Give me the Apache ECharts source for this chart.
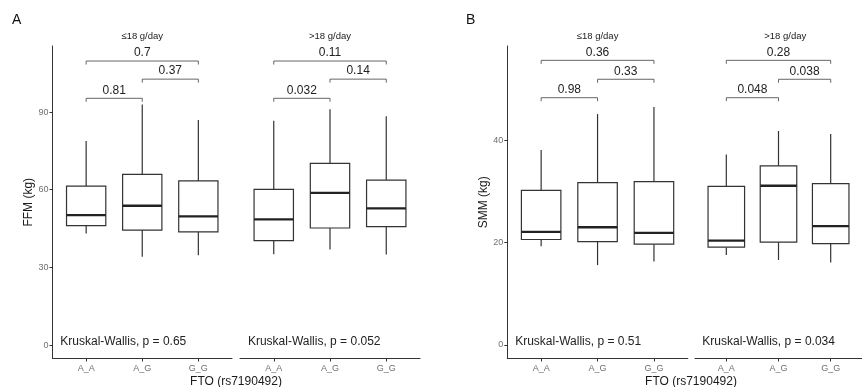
<!DOCTYPE html>
<html>
<head>
<meta charset="utf-8">
<script src="https://cdn.jsdelivr.net/npm/echarts@6/dist/echarts.min.js"></script>
<style>
  html, body { margin: 0; padding: 0; background: #fff; }
  #chart { width: 862px; height: 387px; }
</style>
</head>
<body>
<div id="chart"></div>
<script>
// Genotype categories and intake strata
const genotypes = ['A_A', 'A_G', 'G_G'];
const intakeGroups = ['\u226418 g/day', '>18 g/day'];

// Box summaries per genotype: [lower whisker, Q1, median, Q3, upper whisker]
const ffmLow  = [[43.1, 46.1, 50.2, 61.4, 78.8], [34.1, 44.4, 53.8, 65.9, 92.9], [34.7, 43.7, 49.7, 63.4, 86.9]];
const ffmHigh = [[35.1, 40.3, 48.5, 60.1, 86.6], [36.9, 45.2, 58.8, 70.2, 91.1], [35.0, 45.7, 52.8, 63.7, 88.4]];
const smmLow  = [[19.3, 20.6, 22.1, 30.2, 38.1], [15.6, 20.2, 23.0, 31.7, 45.1], [16.3, 19.7, 21.9, 31.9, 46.5]];
const smmHigh = [[17.6, 19.1, 20.4, 31.0, 37.2], [16.6, 20.1, 31.1, 35.0, 41.8], [16.1, 19.8, 23.2, 31.5, 41.2]];

// Pairwise comparisons: A_A vs A_G, A_G vs G_G, A_A vs G_G
const pairs = [[0, 1], [1, 2], [0, 2]];
const ffmBracketY = [95.3, 102.7, 109.7];
const smmBracketY = [48.3, 51.9, 55.6];
const ffmLowP  = ['0.81', '0.37', '0.7'];
const ffmHighP = ['0.032', '0.14', '0.11'];
const smmLowP  = ['0.98', '0.33', '0.36'];
const smmHighP = ['0.048', '0.038', '0.28'];

// Kruskal-Wallis p-values per stratum
const ffmKW = ['0.65', '0.052'];
const smmKW = ['0.51', '0.034'];

// Y axis ticks
const ffmTicks = [0, 30, 60, 90];
const smmTicks = [0, 20, 40];

const FONT = '"Liberation Sans", Arial, sans-serif';
const INK = '#333333';

const chart = echarts.init(document.getElementById('chart'), null, { renderer: 'canvas' });

const panelTop = 46, panelHeight = 312.5;
const facets = [
  { left: 52.5, width: 179.5, boxes: ffmLow,  p: ffmLowP,  by: ffmBracketY, kw: ffmKW[0], ymin: -5.2,  ymax: 115.5, ticks: ffmTicks, showY: true,  yName: 'FFM (kg)' },
  { left: 240,  width: 180,   boxes: ffmHigh, p: ffmHighP, by: ffmBracketY, kw: ffmKW[1], ymin: -5.2,  ymax: 115.5, ticks: ffmTicks, showY: false },
  { left: 507.3, width: 180.5, boxes: smmLow,  p: smmLowP,  by: smmBracketY, kw: smmKW[0], ymin: -2.64, ymax: 58.4, ticks: smmTicks, showY: true, yName: 'SMM (kg)' },
  { left: 695,  width: 180.5, boxes: smmHigh, p: smmHighP, by: smmBracketY, kw: smmKW[1], ymin: -2.64, ymax: 58.4, ticks: smmTicks, showY: false }
];

const grids = [], xAxes = [], yAxes = [], series = [];

facets.forEach((f, gi) => {
  grids.push({ left: f.left, top: panelTop, width: f.width, height: panelHeight, containLabel: false });
  xAxes.push({
    type: 'value', gridIndex: gi, min: -0.6, max: 2.6,
    axisLine: { show: true, onZero: false, lineStyle: { color: INK, width: 1 } },
    axisTick: { show: true, customValues: [0, 1, 2], length: 3, lineStyle: { color: INK } },
    axisLabel: { show: true, customValues: [0, 1, 2], formatter: v => genotypes[Math.round(v)], color: '#6e6e6e', fontSize: 9, fontFamily: FONT, margin: 6 },
    splitLine: { show: false }
  });
  yAxes.push({
    type: 'value', gridIndex: gi, min: f.ymin, max: f.ymax, show: f.showY,
    axisLine: { show: true, onZero: false, lineStyle: { color: INK, width: 1 } },
    axisTick: { show: true, customValues: f.ticks, length: 3, lineStyle: { color: INK } },
    axisLabel: { show: true, customValues: f.ticks, color: '#6e6e6e', fontSize: 9, fontFamily: FONT, margin: 4 },
    splitLine: { show: false },
    name: f.yName || '', nameLocation: 'middle', nameGap: 18,
    nameTextStyle: { fontSize: 12, fontFamily: FONT, color: '#1a1a1a' }
  });

  // Box-and-whisker marks
  series.push({
    type: 'custom', xAxisIndex: gi, yAxisIndex: gi,
    data: f.boxes.map((b, i) => [i, b[0], b[1], b[2], b[3], b[4]]),
    renderItem: (params, api) => {
      const x = api.value(0);
      const w = api.size([0.7, 0])[0];
      const lo = api.coord([x, api.value(1)]);
      const q1 = api.coord([x, api.value(2)]);
      const md = api.coord([x, api.value(3)]);
      const q3 = api.coord([x, api.value(4)]);
      const hi = api.coord([x, api.value(5)]);
      const stroke = { stroke: INK, lineWidth: 1.2 };
      return {
        type: 'group',
        children: [
          { type: 'line', shape: { x1: hi[0], y1: hi[1], x2: q3[0], y2: q3[1] }, style: stroke },
          { type: 'line', shape: { x1: q1[0], y1: q1[1], x2: lo[0], y2: lo[1] }, style: stroke },
          { type: 'rect', shape: { x: q3[0] - w / 2, y: q3[1], width: w, height: q1[1] - q3[1] }, style: { fill: '#fff', stroke: INK, lineWidth: 1.2 } },
          { type: 'line', shape: { x1: md[0] - w / 2, y1: md[1], x2: md[0] + w / 2, y2: md[1] }, style: { stroke: '#222', lineWidth: 2.3 } }
        ]
      };
    }
  });

  // Pairwise comparison brackets
  series.push({
    type: 'custom', xAxisIndex: gi, yAxisIndex: gi,
    data: pairs.map((pr, i) => [pr[0], pr[1], f.by[i]]),
    renderItem: (params, api) => {
      const a = api.coord([api.value(0), api.value(2)]);
      const b = api.coord([api.value(1), api.value(2)]);
      const tick = 3.5;
      return {
        type: 'group',
        children: [
          { type: 'polyline', shape: { points: [[a[0], a[1] + tick], [a[0], a[1]], [b[0], b[1]], [b[0], b[1] + tick]] }, style: { stroke: '#555', lineWidth: 0.9, fill: null } },
          { type: 'text', style: { x: (a[0] + b[0]) / 2, y: a[1] - 2, text: f.p[params.dataIndex], align: 'center', verticalAlign: 'bottom', fontSize: 12, fontFamily: FONT, fill: '#222' } }
        ]
      };
    }
  });

  // Global test label
  series.push({
    type: 'custom', xAxisIndex: gi, yAxisIndex: gi,
    data: [[-0.46, 0]],
    renderItem: (params, api) => {
      const p = api.coord([api.value(0), api.value(1)]);
      return { type: 'text', style: { x: p[0], y: p[1] - 3, text: 'Kruskal-Wallis, p = ' + f.kw, align: 'left', verticalAlign: 'middle', fontSize: 12, fontFamily: FONT, fill: '#222' } };
    }
  });
});

// Strip labels, panel letters and shared x titles
const graphic = facets.map((f, gi) => ({
  type: 'text', x: f.left + f.width / 2, y: 31,
  style: { text: intakeGroups[gi % 2], fontSize: 9.5, fontFamily: FONT, fill: '#1a1a1a', align: 'center', textAlign: 'center' }
}));
graphic.push(
  { type: 'text', x: 12, y: 13, style: { text: 'A', fontSize: 14, fontFamily: FONT, fill: '#111' } },
  { type: 'text', x: 466, y: 13, style: { text: 'B', fontSize: 14, fontFamily: FONT, fill: '#111' } },
  { type: 'text', x: 236, y: 376, style: { text: 'FTO (rs7190492)', fontSize: 12, fontFamily: FONT, fill: '#1a1a1a', align: 'center' } },
  { type: 'text', x: 691, y: 376, style: { text: 'FTO (rs7190492)', fontSize: 12, fontFamily: FONT, fill: '#1a1a1a', align: 'center' } }
);

chart.setOption({
  animation: false,
  backgroundColor: '#fff',
  grid: grids,
  xAxis: xAxes,
  yAxis: yAxes,
  series: series,
  graphic: graphic
});
</script>
</body>
</html>
